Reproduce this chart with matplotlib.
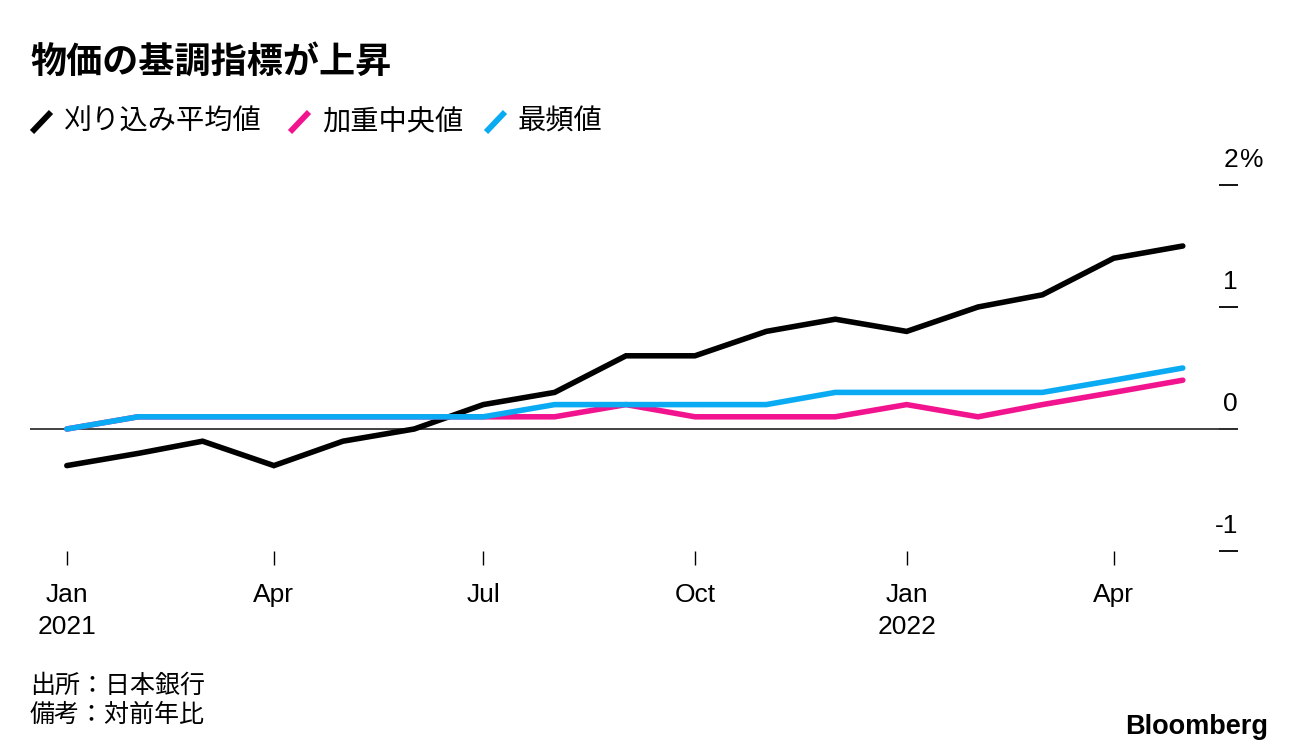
import numpy as np
import pandas as pd
import matplotlib
matplotlib.use('Agg')
import matplotlib.pyplot as plt
import matplotlib.dates as mdates
import matplotlib.transforms as mtrans
from matplotlib.lines import Line2D

plt.rcParams['font.family'] = ['Liberation Sans', 'Noto Sans CJK JP', 'DejaVu Sans']

months = pd.date_range('2021-01-01', '2022-05-01', freq='MS')
trimmed_mean = [-0.3, -0.2, -0.1, -0.3, -0.1, 0.0, 0.2, 0.3, 0.6, 0.6, 0.8, 0.9,
                0.8, 1.0, 1.1, 1.4, 1.5]
weighted_median = [0.0, 0.1, 0.1, 0.1, 0.1, 0.1, 0.1, 0.1, 0.2, 0.1, 0.1, 0.1,
                   0.2, 0.1, 0.2, 0.3, 0.4]
mode = [0.0, 0.1, 0.1, 0.1, 0.1, 0.1, 0.1, 0.2, 0.2, 0.2, 0.2, 0.3,
        0.3, 0.3, 0.3, 0.4, 0.5]
series_names = ['刈り込み平均値', '加重中央値', '最頻値']
colors = ['#000000', '#F2148F', '#0AABF2']
yticks = [-1, 0, 1, 2]
xtick_dates = pd.to_datetime(['2021-01-01', '2021-04-01', '2021-07-01',
                              '2021-10-01', '2022-01-01', '2022-04-01'])
xtick_labels = ['Jan\n2021', 'Apr', 'Jul', 'Oct', 'Jan\n2022', 'Apr']

W, H = 1296, 754
fig = plt.figure(figsize=(W / 100, H / 100), dpi=100)
ax = fig.add_axes([30 / W, (H - 551) / H, (1238 - 30) / W, (551 - 185) / H])

for vals, c, z in zip([trimmed_mean, weighted_median, mode], colors, [3, 4, 5]):
    ax.plot(months, vals, color=c, lw=4.0, solid_capstyle='round',
            solid_joinstyle='miter', zorder=z)

ax.axhline(0, color='#333333', lw=1.3, zorder=2)

ax.set_xlim(pd.Timestamp('2020-12-16'), pd.Timestamp('2022-05-25'))
ax.set_ylim(-1, 2)

for s in ax.spines.values():
    s.set_visible(False)

ax.set_xticks(xtick_dates)
ax.set_xticklabels(xtick_labels, fontsize=19, linespacing=1.45)
ax.tick_params(axis='x', direction='out', length=10, width=1, pad=13,
               color='#000000')

ax.yaxis.tick_right()
ax.set_yticks(yticks)
ax.set_yticklabels([])
ax.tick_params(axis='y', direction='in', length=13.5, width=1.3, color='#000000')

trans = mtrans.blended_transform_factory(ax.transAxes, ax.transData)
off = mtrans.offset_copy(trans, fig=fig, x=0, y=13, units='dots')
for v in yticks:
    ax.text(1.0, v, str(v), transform=off, ha='right', va='bottom', fontsize=19)
ax.text(1.002, 2, '%', transform=off, ha='left', va='bottom', fontsize=19)

# title
fig.text(30 / W, 1 - 62 / H, '物価の基調指標が上昇', fontsize=26, fontweight='bold',
         family=['Noto Sans CJK JP'], va='center', ha='left')

# legend
leg_x = [30, 288, 484]
for x0, name, c in zip(leg_x, series_names, colors):
    fig.add_artist(Line2D([(x0 + 2) / W, (x0 + 21) / W],
                          [1 - 132 / H, 1 - 112 / H], color=c, lw=4.2,
                          transform=fig.transFigure, solid_capstyle='butt'))
    fig.text((x0 + 34) / W, 1 - 122 / H, name, fontsize=20.3,
             family=['Noto Sans CJK JP'], va='center', ha='left')

# notes
fig.text(30 / W, 1 - 686 / H, '出所：日本銀行', fontsize=18,
         family=['Noto Sans CJK JP'], va='center', ha='left')
fig.text(30 / W, 1 - 715 / H, '備考：対前年比', fontsize=18,
         family=['Noto Sans CJK JP'], va='center', ha='left')
fig.text(1268 / W, 1 - 727 / H, 'Bloomberg', fontsize=19.5, fontweight='bold',
         va='center', ha='right')

fig.savefig('out.png', dpi=100)
